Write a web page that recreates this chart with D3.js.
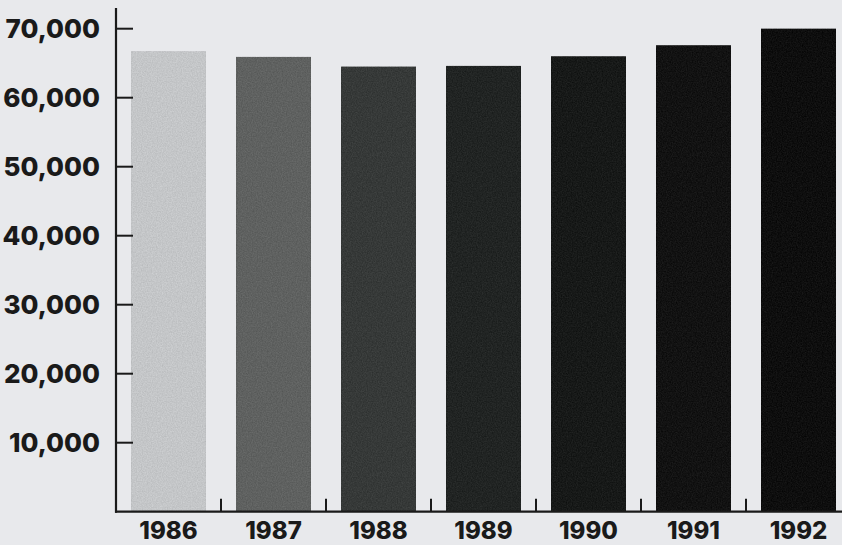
<!DOCTYPE html>
<html>
<head>
<meta charset="utf-8">
<script src="https://cdn.jsdelivr.net/npm/d3@7"></script>
<style>
  html, body { margin: 0; padding: 0; background: #e8e9ec; }
  svg { display: block; }
  .tick-label { font-family: Inter, "Open Sans", "DejaVu Sans", sans-serif; font-weight: 800; fill: #1a1a1a; }
</style>
</head>
<body>
<div id="chart"></div>
<script>
const years = ["1986", "1987", "1988", "1989", "1990", "1991", "1992"];
const values = [66700, 65900, 64500, 64600, 66000, 67600, 70000];
const barColours = ["#c4c6c8", "#5f6160", "#363938", "#212423", "#171918", "#121212", "#0e0e0e"];
const yTicks = [10000, 20000, 30000, 40000, 50000, 60000, 70000];

const width = 842, height = 545;
const margin = { top: 8, right: 0, bottom: 33, left: 116 };

const svg = d3.select("#chart").append("svg")
  .attr("width", width)
  .attr("height", height);

// paper-like grain on the bars: source + small signed noise
const defs = svg.append("defs");
const grain = defs.append("filter").attr("id", "grain")
  .attr("x", 0).attr("y", 0).attr("width", 1).attr("height", 1)
  .attr("color-interpolation-filters", "sRGB");
grain.append("feTurbulence")
  .attr("type", "fractalNoise").attr("baseFrequency", 0.8).attr("numOctaves", 2).attr("seed", 3)
  .attr("result", "noise");
grain.append("feColorMatrix")
  .attr("in", "noise").attr("type", "matrix")
  .attr("values", "1 0 0 0 0  1 0 0 0 0  1 0 0 0 0  0 0 0 0 1")
  .attr("result", "n");
grain.append("feComposite")
  .attr("in", "SourceGraphic").attr("in2", "n")
  .attr("operator", "arithmetic")
  .attr("k1", 0).attr("k2", 1).attr("k3", 0.12).attr("k4", -0.06);

const baseline = 511.7;
const yScale = d3.scaleLinear().domain([0, 70000]).range([baseline, 28.7]);
const xScale = d3.scaleBand().domain(years).range([margin.left, margin.left + 105 * years.length])
  .paddingInner(0.286).paddingOuter(0.143);

// bars
svg.append("g").selectAll("rect")
  .data(years)
  .join("rect")
  .attr("x", d => xScale(d))
  .attr("width", xScale.bandwidth())
  .attr("y", (d, i) => yScale(values[i]))
  .attr("height", (d, i) => baseline - yScale(values[i]))
  .attr("fill", (d, i) => barColours[i])
  .attr("filter", "url(#grain)");

// y axis
const yAxis = svg.append("g").attr("transform", `translate(${margin.left},0)`);
yAxis.append("line")
  .attr("x1", 0).attr("x2", 0)
  .attr("y1", margin.top).attr("y2", baseline + 1)
  .attr("stroke", "#1a1a1a").attr("stroke-width", 2.2);
yAxis.selectAll(".ytick").data(yTicks).join("line")
  .attr("class", "ytick")
  .attr("x1", 0).attr("x2", 17)
  .attr("y1", d => yScale(d)).attr("y2", d => yScale(d))
  .attr("stroke", "#1a1a1a").attr("stroke-width", 2);
yAxis.selectAll("text").data(yTicks).join("text")
  .attr("class", "tick-label")
  .attr("x", -16)
  .attr("y", d => yScale(d))
  .attr("dy", "0.36em")
  .attr("text-anchor", "end")
  .style("font-size", "26px")
  .text(d => d3.format(",")(d));

// x axis
const xAxis = svg.append("g");
xAxis.append("line")
  .attr("x1", margin.left - 1).attr("x2", width)
  .attr("y1", baseline).attr("y2", baseline)
  .attr("stroke", "#1a1a1a").attr("stroke-width", 2.2);
xAxis.selectAll(".xtick").data(years.slice(1)).join("line")
  .attr("class", "xtick")
  .attr("x1", d => xScale(d) - xScale.step() * xScale.paddingInner() / 2)
  .attr("x2", d => xScale(d) - xScale.step() * xScale.paddingInner() / 2)
  .attr("y1", baseline).attr("y2", baseline - 13)
  .attr("stroke", "#1a1a1a").attr("stroke-width", 2);
xAxis.selectAll("text").data(years).join("text")
  .attr("class", "tick-label")
  .attr("x", d => xScale(d) + xScale.bandwidth() / 2)
  .attr("y", 539)
  .attr("text-anchor", "middle")
  .style("font-size", "24px")
  .text(d => d);
</script>
</body>
</html>
